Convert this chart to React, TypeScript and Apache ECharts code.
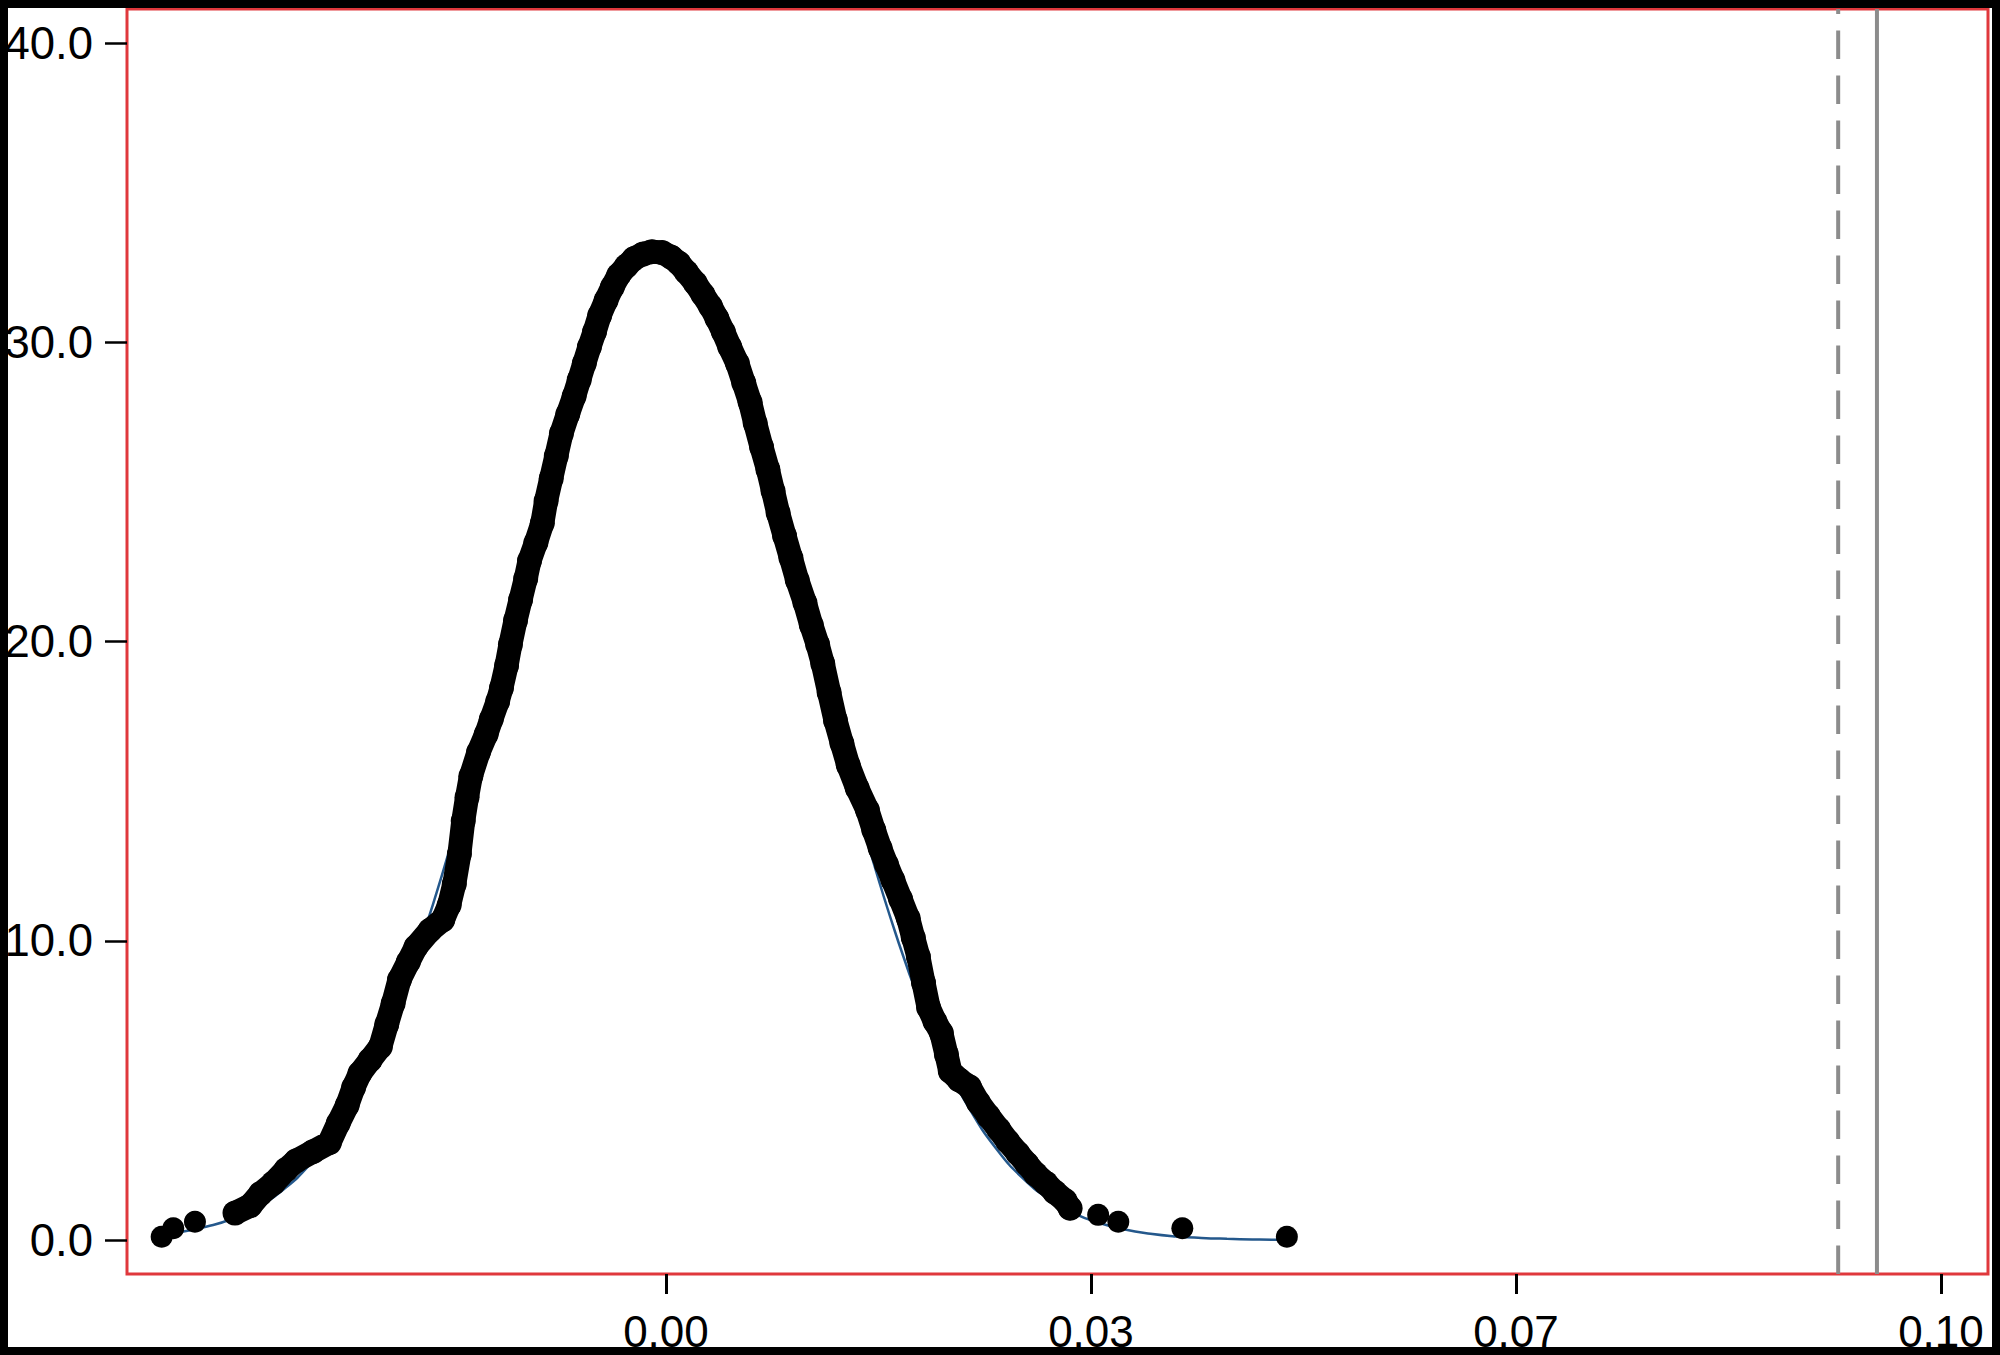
import React, { useEffect, useRef } from "react";
import * as echarts from "echarts";

// Axis ticks (value positions) and their printed labels
const xTickValues = [0, 0.0333333, 0.0666667, 0.1];
const yTickValues = [0, 10, 20, 30, 40];

// Plot window extents
const xMin = -0.04227;
const xMax = 0.10369;
const yMin = -1.136;
const yMax = 41.14;

// Reference lines
const dashedLineX = 0.09194;
const solidLineX = 0.09498;

// Isolated tail points
const leftTailX = [-0.03955, -0.03864, -0.03694];
const leftTailY = [0.11, 0.39, 0.61];
const rightTailX = [0.0339, 0.03548, 0.0405, 0.0487];
const rightTailY = [0.84, 0.61, 0.39, 0.11];

// Dense band of observed density points
const bandX = [
  -0.0338, -0.0326, -0.0318, -0.0308, -0.0298, -0.029, -0.0277, -0.0264, -0.0257, -0.025,
  -0.0245, -0.024, -0.0232, -0.0224, -0.0219, -0.0214, -0.0209, -0.0202, -0.0196, -0.0185,
  -0.0175, -0.017, -0.0166, -0.0162, -0.0159, -0.0156, -0.0153, -0.0147, -0.0141, -0.0137,
  -0.0132, -0.0129, -0.0125, -0.0122, -0.0118, -0.0114, -0.011, -0.0107, -0.0102, -0.0097,
  -0.0094, -0.009, -0.0086, -0.0082, -0.0077, -0.0072, -0.0068, -0.0064, -0.006, -0.0056,
  -0.0052, -0.0047, -0.0042, -0.0037, -0.0031, -0.0025, -0.0018, -0.0011, -0.0003, 0.0004,
  0.001, 0.0016, 0.0023, 0.0029, 0.0035, 0.004, 0.0045, 0.005, 0.0056, 0.0061,
  0.0066, 0.007, 0.0075, 0.008, 0.0084, 0.0088, 0.0093, 0.0098, 0.0103, 0.0109,
  0.0114, 0.0119, 0.0123, 0.0128, 0.0133, 0.0138, 0.0143, 0.015, 0.0158, 0.0163,
  0.0168, 0.0173, 0.0178, 0.0184, 0.019, 0.0194, 0.0198, 0.0202, 0.0206, 0.0211,
  0.0216, 0.022, 0.0223, 0.023, 0.0238, 0.0245, 0.0253, 0.0261, 0.0268, 0.0276,
  0.0283, 0.029, 0.0298, 0.0305, 0.0313, 0.0317,
];
const bandY = [
  0.9, 1.15, 1.55, 1.9, 2.35, 2.65, 2.95, 3.25, 3.9, 4.5,
  5.1, 5.57, 6.02, 6.46, 7.2, 7.9, 8.7, 9.3, 9.8, 10.35,
  10.7, 11.2, 11.9, 12.9, 14.0, 14.8, 15.5, 16.3, 16.9, 17.4,
  18.0, 18.45, 19.2, 19.9, 20.7, 21.4, 22.1, 22.7, 23.3, 23.95,
  24.7, 25.45, 26.2, 26.95, 27.6, 28.2, 28.75, 29.3, 29.85, 30.35,
  30.9, 31.4, 31.85, 32.25, 32.55, 32.8, 32.95, 33.03, 33.0, 32.85,
  32.65, 32.35, 31.98, 31.6, 31.2, 30.8, 30.35, 29.85, 29.3, 28.65,
  28.0, 27.3, 26.5, 25.75, 25.03, 24.3, 23.54, 22.8, 22.05, 21.3,
  20.55, 19.9, 19.27, 18.3, 17.36, 16.6, 15.87, 15.1, 14.37, 13.7,
  13.09, 12.55, 12.03, 11.4, 10.75, 10.1, 9.47, 8.6, 7.77, 7.3,
  6.92, 6.2, 5.64, 5.35, 5.12, 4.6, 4.14, 3.7, 3.3, 2.9,
  2.55, 2.2, 1.9, 1.6, 1.32, 1.06,
];

// Fitted normal curve
const fitX = [
  -0.04, -0.038, -0.036, -0.034, -0.032, -0.03, -0.028, -0.026, -0.024, -0.022,
  -0.02, -0.018, -0.016, -0.014, -0.012, -0.01, -0.008, -0.006, -0.004, -0.002,
  0.0, 0.002, 0.004, 0.006, 0.008, 0.01, 0.012, 0.014, 0.016, 0.018,
  0.02, 0.022, 0.024, 0.026, 0.028, 0.03, 0.032, 0.034, 0.036, 0.038,
  0.04, 0.042, 0.044, 0.046, 0.048, 0.049,
];
const fitY = [
  0.16, 0.27, 0.45, 0.71, 1.11, 1.69, 2.49, 3.58, 5.01, 6.8,
  9.0, 11.59, 14.53, 17.71, 21.01, 24.25, 27.23, 29.76, 31.65, 32.75,
  32.97, 32.3, 30.8, 28.56, 25.79, 22.65, 19.35, 16.09, 13.02, 10.26,
  7.86, 5.86, 4.25, 3.0, 2.06, 1.38, 0.89, 0.57, 0.35, 0.21,
  0.12, 0.07, 0.04, 0.02, 0.01, 0.01,
];

const zip = (xs: number[], ys: number[]) => xs.map((x, i) => [x, ys[i]]);

export default function App() {
  const ref = useRef<HTMLDivElement>(null);
  useEffect(() => {
    if (!ref.current) return;
    const chart = echarts.init(ref.current, undefined, { renderer: "svg" });
    const font = "'Liberation Sans', Arial, sans-serif";
    const gray = "#8c8c8c";
    chart.setOption({
      animation: false,
      backgroundColor: "#ffffff",
      grid: {
        left: 127,
        top: 9,
        right: 12,
        bottom: 81,
        show: true,
        borderColor: "#e0383c",
        borderWidth: 3,
        backgroundColor: "transparent",
      },
      xAxis: {
        type: "value",
        min: xMin,
        max: xMax,
        splitLine: { show: false },
        axisLine: { show: false, onZero: false },
        axisTick: {
          show: true,
          length: 20,
          customValues: xTickValues,
          lineStyle: { color: "#000", width: 3 },
        },
        axisLabel: {
          customValues: xTickValues,
          formatter: (v: number) => v.toFixed(2),
          fontSize: 44,
          fontFamily: font,
          color: "#000",
          margin: 35,
        },
      },
      yAxis: {
        type: "value",
        min: yMin,
        max: yMax,
        splitLine: { show: false },
        axisLine: { show: false, onZero: false },
        axisTick: {
          show: true,
          length: 22,
          customValues: yTickValues,
          lineStyle: { color: "#000", width: 2.5 },
        },
        axisLabel: {
          customValues: yTickValues,
          formatter: (v: number) => v.toFixed(1),
          fontSize: 45.5,
          fontFamily: font,
          color: "#000",
          margin: 34,
        },
      },
      series: [
        {
          type: "line",
          data: [[dashedLineX, yMin], [dashedLineX, yMax]],
          showSymbol: false,
          silent: true,
          lineStyle: { color: gray, width: 4, type: [28.5, 16.5] },
          z: 1,
        },
        {
          type: "line",
          data: [[solidLineX, yMin], [solidLineX, yMax]],
          showSymbol: false,
          silent: true,
          lineStyle: { color: gray, width: 4, type: "solid" },
          z: 1,
        },
        {
          type: "line",
          data: zip(fitX, fitY),
          showSymbol: false,
          smooth: true,
          lineStyle: { color: "#24588c", width: 2.5 },
          z: 2,
          silent: true,
        },
        {
          type: "line",
          data: zip(bandX, bandY),
          showSymbol: true,
          showAllSymbol: true,
          symbol: "circle",
          symbolSize: 25,
          itemStyle: { color: "#000", opacity: 1 },
          lineStyle: { color: "#000", width: 24, cap: "round", join: "round" },
          z: 3,
          silent: true,
        },
        {
          type: "scatter",
          data: zip(leftTailX, leftTailY).concat(zip(rightTailX, rightTailY)),
          symbol: "circle",
          symbolSize: 22,
          itemStyle: { color: "#000", opacity: 1 },
          z: 3,
          silent: true,
        },
      ],
      graphic: [
        {
          type: "rect",
          z: 100,
          silent: true,
          shape: { x: 0, y: 0, width: 2000, height: 1355 },
          style: { fill: "none", stroke: "#000", lineWidth: 16 },
        },
      ],
    });
    return () => chart.dispose();
  }, []);
  return (
    <div
      ref={ref}
      style={{ position: "fixed", left: 0, top: 0, width: 2000, height: 1355, background: "#fff" }}
    />
  );
}
